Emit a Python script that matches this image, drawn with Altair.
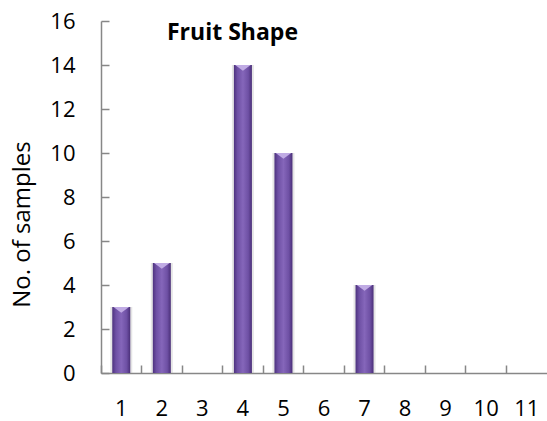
import altair as alt
import pandas as pd

# Number of samples for each fruit-shape class
categories = [str(i) for i in range(1, 12)]
samples = [3, 5, 0, 14, 10, 0, 4, 0, 0, 0, 0]
y_ticks = list(range(0, 17, 2))
chart_title = ["Fruit Shape"]

df = pd.DataFrame({"shape": categories, "samples": samples})
title_df = pd.DataFrame({"label": chart_title})

FONT = "Open Sans"
AXIS_GRAY = "#878787"

x_enc = alt.X(
    "shape:O",
    sort=categories,
    scale=alt.Scale(paddingInner=0, paddingOuter=0),
    axis=alt.Axis(
        title=None,
        labelAngle=0,
        bandPosition=0,
        labelFont=FONT,
        labelFontSize=22,
        labelColor="black",
        labelPadding=33,
        tickSize=alt.ExprRef(expr="-8"),
        tickColor=AXIS_GRAY,
        tickWidth=1.5,
        domainColor=AXIS_GRAY,
        domainWidth=1.5,
    ),
)

y_enc = alt.Y(
    "samples:Q",
    scale=alt.Scale(domain=[0, 16], nice=False),
    axis=alt.Axis(
        title="No. of samples",
        values=y_ticks,
        grid=False,
        labelFont=FONT,
        labelFontSize=22,
        labelColor="black",
        labelPadding=34,
        tickSize=alt.ExprRef(expr="-8"),
        tickColor=AXIS_GRAY,
        tickWidth=1.5,
        domainColor=AXIS_GRAY,
        domainWidth=1.5,
        titleFont=FONT,
        titleFontSize=24,
        titleFontWeight="normal",
        titleColor="black",
        titleX=-79,
        titleY=203,
        titleAngle=-90,
        titleAlign="center",
        titleBaseline="middle",
    ),
)

base = alt.Chart(df).encode(x=x_enc, y=y_enc)

# soft grey halo behind each column
shadow = base.mark_bar(width=22, color="#b5b5b5", opacity=0.35)

# cylinder-like purple columns
bars = base.mark_bar(
    width=18,
    color=alt.Gradient(
        gradient="linear",
        x1=0, x2=1, y1=0, y2=0,
        stops=[
            alt.GradientStop(color="#4d327e", offset=0),
            alt.GradientStop(color="#6e50a4", offset=0.2),
            alt.GradientStop(color="#8566ba", offset=0.5),
            alt.GradientStop(color="#6e50a4", offset=0.8),
            alt.GradientStop(color="#4a2f78", offset=1),
        ],
    ),
)

# light bevel on the top of each column
bevel = base.transform_filter("datum.samples > 0").mark_point(
    shape="M-1,0L1,0L0,0.75Z",
    filled=True,
    size=240,
    color="#c0abe4",
    opacity=1,
    strokeWidth=0,
)

# chart heading placed inside the plot area
heading = alt.Chart(title_df).mark_text(
    align="left",
    baseline="alphabetic",
    font=FONT,
    fontSize=23,
    fontWeight="bold",
    color="black",
).encode(text="label:N", x=alt.value(66), y=alt.value(19))

chart = (
    alt.layer(shadow, bars, bevel, heading)
    .properties(
        width=446,
        height=352,
        padding={"left": 101, "top": 21, "right": 0, "bottom": 48},
        autosize=alt.AutoSizeParams(type="none"),
        background="white",
    )
    .configure_view(stroke=None)
)

chart.save("out.html", embed_options={"renderer": "svg", "actions": False})
